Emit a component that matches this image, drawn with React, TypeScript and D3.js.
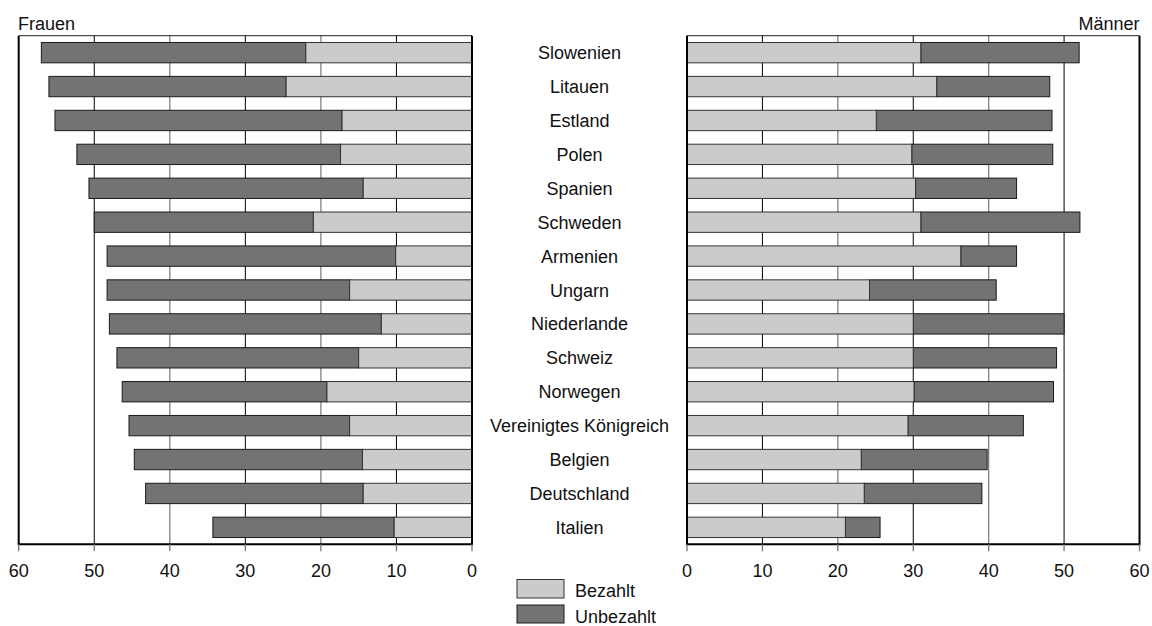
import * as d3 from 'd3';

const countries = [
  'Slowenien', 'Litauen', 'Estland', 'Polen', 'Spanien', 'Schweden', 'Armenien', 'Ungarn',
  'Niederlande', 'Schweiz', 'Norwegen', 'Vereinigtes Königreich', 'Belgien', 'Deutschland', 'Italien',
];
const frauenBezahlt = [22.0, 24.6, 17.2, 17.4, 14.4, 21.0, 10.1, 16.2, 12.0, 15.0, 19.2, 16.2, 14.5, 14.4, 10.3];
const frauenUnbezahlt = [35.0, 31.4, 38.0, 34.9, 36.3, 29.0, 38.2, 32.1, 36.0, 32.0, 27.1, 29.2, 30.2, 28.8, 24.0];
const maennerBezahlt = [31.0, 33.1, 25.1, 29.8, 30.3, 31.0, 36.3, 24.2, 30.0, 30.0, 30.1, 29.3, 23.1, 23.5, 21.0];
const maennerUnbezahlt = [21.0, 15.0, 23.3, 18.7, 13.4, 21.1, 7.4, 16.8, 20.0, 19.0, 18.5, 15.3, 16.7, 15.6, 4.6];
const ticks = [0, 10, 20, 30, 40, 50, 60];

const LIGHT = '#cbcbcb';
const DARK = '#737373';
const FONT = '"Liberation Sans", Arial, Helvetica, sans-serif';

const top = 35.7;
const bottom = 544.3;

export default function App() {
  const y = d3.scaleBand<string>().domain(countries).range([top, bottom]).paddingInner(0.4).paddingOuter(0.2);
  const xL = d3.scaleLinear().domain([60, 0]).range([18.7, 472]);
  const xR = d3.scaleLinear().domain([0, 60]).range([687, 1139.5]);
  const bh = y.bandwidth();

  const panel = (x: d3.ScaleLinear<number, number>, paid: number[], unpaid: number[], key: string) => {
    const [r0, r1] = x.range();
    const lo = Math.min(r0, r1);
    const hi = Math.max(r0, r1);
    return (
      <g key={key}>
        {/* grid */}
        {[10, 20, 30, 40, 50].map((t) => (
          <line key={t} x1={x(t)} x2={x(t)} y1={top} y2={bottom}
            stroke={t % 20 === 0 ? '#808080' : '#000'} strokeWidth={t % 20 === 0 ? 1.3 : 1} />
        ))}
        <line x1={lo} x2={hi} y1={top} y2={top} stroke="#222" strokeWidth={1} />
        {/* bars */}
        {countries.map((c, i) => {
          const yy = y(c) as number;
          const p = paid[i];
          const total = p + unpaid[i];
          return (
            <g key={c}>
              <rect x={Math.min(x(p), x(total))} y={yy} width={Math.abs(x(total) - x(p))} height={bh}
                fill={DARK} stroke="#1a1a1a" strokeWidth={1} />
              <rect x={Math.min(x(0), x(p))} y={yy} width={Math.abs(x(p) - x(0))} height={bh}
                fill={LIGHT} stroke="#333" strokeWidth={1} />
            </g>
          );
        })}
        {/* frame */}
        <line x1={lo} x2={lo} y1={top} y2={bottom} stroke="#000" strokeWidth={2} />
        <line x1={hi} x2={hi} y1={top} y2={bottom} stroke="#000" strokeWidth={2} />
        <line x1={lo - 1} x2={hi + 1} y1={bottom} y2={bottom} stroke="#000" strokeWidth={2} />
        {ticks.map((t) => (
          <g key={t}>
            <line x1={x(t)} x2={x(t)} y1={bottom} y2={bottom + 7} stroke="#777" strokeWidth={1.3} />
            <text x={x(t)} y={576.5} textAnchor="middle" fontSize={18} fontFamily={FONT} fill="#111">{t}</text>
          </g>
        ))}
      </g>
    );
  };

  return (
    <svg width={1152} height={626} style={{ position: 'absolute', left: 0, top: 0, background: '#fff' }}>
      <rect width={1152} height={626} fill="#fff" />
      <text x={18} y={30} fontSize={18} fontFamily={FONT} fill="#111">Frauen</text>
      <text x={1139.5} y={30} fontSize={18} fontFamily={FONT} fill="#111" textAnchor="end">Männer</text>
      {panel(xL, frauenBezahlt, frauenUnbezahlt, 'f')}
      {panel(xR, maennerBezahlt, maennerUnbezahlt, 'm')}
      {countries.map((c) => (
        <text key={c} x={579.5} y={(y(c) as number) + bh / 2 + 6.5} textAnchor="middle"
          fontSize={18} fontFamily={FONT} fill="#111">{c}</text>
      ))}
      {/* legend */}
      <rect x={517} y={579.5} width={47} height={18.5} fill={LIGHT} stroke="#333" strokeWidth={1} />
      <text x={575} y={597} fontSize={18} fontFamily={FONT} fill="#111">Bezahlt</text>
      <rect x={517} y={605} width={47} height={18} fill={DARK} stroke="#1a1a1a" strokeWidth={1} />
      <text x={575} y={622.5} fontSize={18} fontFamily={FONT} fill="#111">Unbezahlt</text>
    </svg>
  );
}
